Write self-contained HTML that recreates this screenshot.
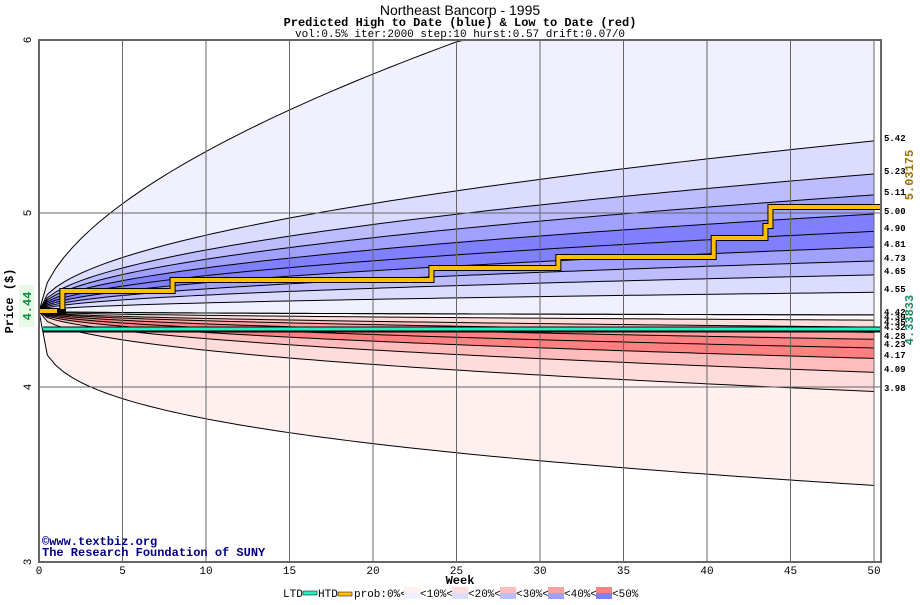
<!DOCTYPE html>
<html><head><meta charset="utf-8"><style>
html,body{margin:0;padding:0;background:#fff;}
body{width:920px;height:600px;overflow:hidden;font-family:"Liberation Mono",monospace;}
</style></head><body>
<svg id="s" width="920" height="600" xmlns="http://www.w3.org/2000/svg" font-family="Liberation Mono, monospace">
<rect width="920" height="600" fill="#fff"/>
<g id="bands"></g>
<g id="lines" fill="none" stroke="#000" stroke-width="1"></g>
<g id="grid" stroke="#666" stroke-width="1"></g>
<g id="series"></g>
<rect x="39" y="40" width="842" height="522" fill="none" stroke="#666" stroke-width="2"/>
<text x="460" y="15" text-anchor="middle" font-family="Liberation Sans, sans-serif" font-size="14">Northeast Bancorp - 1995</text>
<text x="460" y="26" text-anchor="middle" font-size="12" font-weight="bold">Predicted High to Date (blue) &amp;  Low to Date (red)</text>
<text x="460" y="37" text-anchor="middle" font-size="11">vol:0.5% iter:2000 step:10 hurst:0.57 drift:0.07/0</text>
<text transform="translate(31,40) rotate(-90)" font-size="11" text-anchor="middle">6</text>
<text transform="translate(31,213) rotate(-90)" font-size="11" text-anchor="middle">5</text>
<text transform="translate(31,387) rotate(-90)" font-size="11" text-anchor="middle">4</text>
<text transform="translate(31,562) rotate(-90)" font-size="11" text-anchor="middle">3</text>
<text transform="translate(13,301) rotate(-90)" font-size="12" font-weight="bold" text-anchor="middle">Price ($)</text>
<rect x="19" y="285" width="15" height="42" fill="#e6fae6"/>
<text transform="translate(31,306) rotate(-90)" font-size="12" font-weight="bold" fill="#108a40" text-anchor="middle">4.44</text>
<text transform="translate(913,175) rotate(-90)" font-size="12" font-weight="bold" fill="#a07000" text-anchor="middle">5.03175</text>
<text transform="translate(913,320) rotate(-90)" font-size="12" font-weight="bold" fill="#109060" text-anchor="middle">4.33833</text>
<g id="xl" font-size="11" text-anchor="middle"></g>
<g id="rl" font-size="9" font-weight="bold"></g>
<text x="460" y="584" text-anchor="middle" font-size="12" font-weight="bold">Week</text>
<text x="42" y="545" font-size="12" font-weight="bold" fill="#000080">©www.textbiz.org</text>
<text x="42" y="556" font-size="12" font-weight="bold" fill="#000080">The Research Foundation of SUNY</text>
<g id="leg" font-size="11"></g>
</svg>
<script>
var NS="http://www.w3.org/2000/svg";
function el(p,t,a,txt){var e=document.createElementNS(NS,t);for(var k in a)e.setAttribute(k,a[k]);if(txt!=null)e.textContent=txt;document.getElementById(p).appendChild(e);return e;}
function X(t){return 39+16.7*t;}
function Y(p){return 40+(6-p)*174;}
var S=4.44;
function curve(E,p){var pts=[];for(var i=0;i<=100;i++){var t=i*0.5;var v=S+(E-S)*Math.pow(t/50,p);var y=Math.max(Y(v),40);y=Math.min(y,562);pts.push([X(t),y]);}return pts;}
var up=[[6.74,0.57],[5.42,0.5],[5.23,0.5],[5.11,0.5],[5.00,0.5],[4.90,0.5],[4.81,0.5],[4.73,0.5],[4.65,0.5],[4.55,0.5],[4.42,0.5]];
var lo=[[4.42,0.5],[4.39,0.5],[4.35,0.5],[4.32,0.5],[4.28,0.5],[4.23,0.5],[4.17,0.5],[4.09,0.5],[3.98,0.45],[3.44,0.3]];
var B=["#f0f0ff","#dcdcff","#bcbcff","#a0a0ff","#8080ff"],R=["#fff0f0","#ffdcdc","#ffbcbc","#ffa0a0","#ff8080"];
var ucol=[B[0],B[1],B[2],B[3],B[4],B[4],B[3],B[2],B[1],B[0]];
var lcol=[R[1],R[2],R[3],R[4],R[4],R[2],R[1],R[0],null];
function poly(a,b){var s="";a.forEach(function(q){s+=q[0]+","+q[1]+" ";});for(var i=b.length-1;i>=0;i--)s+=b[i][0]+","+b[i][1]+" ";return s;}
var uc=up.map(function(c){return curve(c[0],c[1]);}),lc=lo.map(function(c){return curve(c[0],c[1]);});
for(var i=0;i<ucol.length;i++)el("bands","polygon",{points:poly(uc[i],uc[i+1]),fill:ucol[i]});
el("bands","polygon",{points:poly(lc[0],lc[1]),fill:"#fff8f8"});
for(var i=1;i<lc.length-1;i++)el("bands","polygon",{points:poly(lc[i],lc[i+1]),fill:lcol[i-1]});
function pl(p){return p.map(function(q){return q[0]+","+q[1];}).join(" ");}
uc.concat(lc).forEach(function(c){el("lines","polyline",{points:pl(c)});});
for(var w=5;w<=50;w+=5)el("grid","line",{x1:X(w),y1:40,x2:X(w),y2:562});
[213,387].forEach(function(y){el("grid","line",{x1:39,y1:y,x2:881,y2:y});});
for(var w=0;w<=50;w+=5)el("xl","text",{x:X(w),y:574},""+w);
var ltd=X(0.25)+",329 881,329";
el("series","polyline",{points:X(0.25)+",332 881,332",fill:"none",stroke:"#000","stroke-width":1});
el("series","polyline",{points:ltd,fill:"none",stroke:"#000","stroke-width":5});
el("series","polyline",{points:ltd,fill:"none",stroke:"#20f0c0","stroke-width":3});
var h=[[0,311],[1.4,311],[1.4,291],[8,291],[8,280],[23.5,280],[23.5,268],[31.1,268],[31.1,257],[40.4,257],[40.4,238],[43.5,238],[43.5,226],[43.8,226],[43.8,207],[50.4,207]];
var hs=h.map(function(q){return X(q[0])+","+q[1];}).join(" ");
el("series","polyline",{points:hs,fill:"none",stroke:"#000","stroke-width":6});
el("series","polyline",{points:hs,fill:"none",stroke:"#ffc000","stroke-width":4});
el("series","rect",{x:57,y:309,width:9,height:6,fill:"#000"});
var labs=[["5.42",138],["5.23",171],["5.11",192],["5.00",211],["4.90",228],["4.81",244],["4.73",258],["4.65",271],["4.55",289],["4.42",312],["4.39",317],["4.35",322],["4.32",327],["4.28",336],["4.23",344],["4.17",355],["4.09",369],["3.98",388]];
labs.forEach(function(l){el("rl","text",{x:884,y:l[1]+3},l[0]);});
var lx=283,ly=597;
el("leg","text",{x:lx,y:ly},"LTD");el("leg","rect",{x:lx+20,y:ly-6,width:14,height:4,fill:"#20f0c0",stroke:"#000","stroke-width":0.5});
el("leg","text",{x:lx+35,y:ly},"HTD");el("leg","rect",{x:lx+55,y:ly-5,width:14,height:4,fill:"#ffc000",stroke:"#000","stroke-width":0.5});
el("leg","text",{x:lx+71,y:ly},"prob:0%<");
var xs=[404,452,500,548,596];
for(var i=0;i<5;i++){el("leg","rect",{x:xs[i],y:587,width:16,height:6,fill:R[i]});el("leg","rect",{x:xs[i],y:593,width:16,height:6,fill:B[i]});el("leg","text",{x:xs[i]+16,y:ly},"<"+(i+1)*10+"%"+(i<4?"<":""));}
</script>
</body></html>
